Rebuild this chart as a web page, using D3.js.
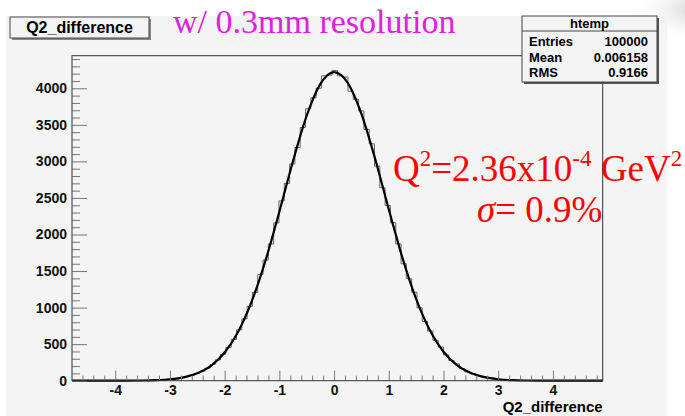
<!DOCTYPE html>
<html>
<head>
<meta charset="utf-8">
<script src="https://cdn.jsdelivr.net/npm/d3@7"></script>
<style>
  body { margin: 0; background: #fff; }
  svg { display: block; }
  .tick text { font-family: "Liberation Sans", Arial, sans-serif; font-weight: bold; font-size: 14px; fill: #111; }
</style>
</head>
<body>
<div id="chart"></div>
<script>
// Histogram binning (htemp, 100 bins)
var xMin = -4.79, xMax = 4.91, nBins = 100;

// Bin contents (left to right)
var counts = [
  0, 0, 0, 0, 0, 0, 0, 0, 0, 0,
  1, 1, 2, 3, 5, 7, 10, 14, 20, 28,
  39, 53, 72, 97, 130, 170, 221, 285, 362, 455,
  566, 696, 846, 1017, 1209, 1455, 1652, 1870, 2159, 2460,
  2698, 2965, 3190, 3464, 3720, 3870, 4000, 4170, 4180, 4245,
  4170, 4155, 3960, 3850, 3690, 3438, 3240, 2935, 2640, 2397,
  2160, 1871, 1600, 1396, 1210, 997, 810, 680, 553, 460,
  353, 277, 230, 165, 120, 94, 70, 51, 37, 27,
  19, 13, 9, 6, 4, 3, 2, 1, 1, 0,
  0, 0, 0, 0, 0, 0, 0, 0, 0, 0
];

// Gaussian fit curve, sampled points
var fitX = [-4.79, -4, -3.5, -3.25, -3, -2.75, -2.5, -2.25, -2, -1.75, -1.5, -1.25, -1, -0.75, -0.5, -0.25,
            0, 0.25, 0.5, 0.75, 1, 1.25, 1.5, 1.75, 2, 2.25, 2.5, 2.75, 3, 3.25, 3.5, 4, 4.91];
var fitY = [0, 0, 3, 8, 20, 46, 101, 204, 385, 674, 1095, 1651, 2312, 3005, 3625, 4061,
            4222, 4075, 3651, 3037, 2345, 1681, 1118, 691, 396, 211, 104, 48, 20, 8, 3, 0, 0];

// Axis ticks
var xTicks = [-4, -3, -2, -1, 0, 1, 2, 3, 4];
var yTicks = [0, 500, 1000, 1500, 2000, 2500, 3000, 3500, 4000];

// Stats box
var statsTitle = "htemp";
var statsRows = [["Entries", "100000"], ["Mean", "0.006158"], ["RMS", "0.9166"]];

var svgWidth = 685, svgHeight = 416;
var frame = { left: 72, right: 602.7, top: 55.7, bottom: 380.7 };

var svg = d3.select('#chart').append('svg')
    .attr('width', svgWidth)
    .attr('height', svgHeight);

// slide decoration top right
var defs = svg.append('defs');
var rg = defs.append('radialGradient').attr('id', 'shade');
rg.append('stop').attr('offset', '0%').attr('stop-color', '#cfcfcf');
rg.append('stop').attr('offset', '100%').attr('stop-color', '#ffffff').attr('stop-opacity', 0);
svg.append('ellipse').attr('cx', 700).attr('cy', 10).attr('rx', 70).attr('ry', 35).attr('fill', 'url(#shade)');

// ROOT canvas
svg.append('rect')
    .attr('x', 6).attr('y', 16)
    .attr('width', 661).attr('height', 400)
    .attr('fill', '#f4f4f4');

var x = d3.scaleLinear().domain([xMin, xMax]).range([frame.left, frame.right]);
var y = d3.scaleLinear().domain([0, 4446]).range([frame.bottom, frame.top]);

var binW = (xMax - xMin) / nBins;
var histPts = counts.map(function(c, i) { return [xMin + i * binW, c]; });
histPts.push([xMax, counts[counts.length - 1]]);

var chart = svg.append('g');

// histogram outline
var stepLine = d3.line()
    .x(d => x(d[0]))
    .y(d => y(d[1]))
    .curve(d3.curveStepAfter);

chart.append('path')
    .datum(histPts)
    .attr('d', stepLine)
    .attr('fill', 'none')
    .attr('stroke', '#666')
    .attr('stroke-width', 1);

// fit
var fitLine = d3.line()
    .x((d, i) => x(fitX[i]))
    .y(d => y(d))
    .curve(d3.curveMonotoneX);

chart.append('path')
    .datum(fitY)
    .attr('d', fitLine)
    .attr('fill', 'none')
    .attr('stroke', '#000')
    .attr('stroke-width', 2.2);

// minor ticks
var xMinor = d3.range(-4.6, 4.85, 0.2).filter(v => Math.abs(v - Math.round(v)) > 0.05);
var yMinor = d3.range(100, 4446, 100).filter(v => v % 500 !== 0);

var xAxisG = chart.append('g')
    .attr('transform', `translate(0, ${frame.bottom})`)
    .call(d3.axisBottom(x).tickValues(xTicks).tickSizeInner(-10).tickSizeOuter(0).tickPadding(4).tickFormat(d => String(d)));
xAxisG.select('.domain').remove();

var xMinorG = chart.append('g')
    .attr('transform', `translate(0, ${frame.bottom})`)
    .call(d3.axisBottom(x).tickValues(xMinor).tickSizeInner(-5).tickSizeOuter(0).tickFormat(''));
xMinorG.select('.domain').remove();

var yAxisG = chart.append('g')
    .attr('transform', `translate(${frame.left}, 0)`)
    .call(d3.axisLeft(y).tickValues(yTicks).tickSizeInner(-15).tickSizeOuter(0).tickPadding(5).tickFormat(d => String(d)));
yAxisG.select('.domain').remove();

var yMinorG = chart.append('g')
    .attr('transform', `translate(${frame.left}, 0)`)
    .call(d3.axisLeft(y).tickValues(yMinor).tickSizeInner(-8).tickSizeOuter(0).tickFormat(''));
yMinorG.select('.domain').remove();

chart.selectAll('.tick line').attr('stroke', '#777');

// frame
chart.append('rect')
    .attr('x', frame.left).attr('y', frame.top)
    .attr('width', frame.right - frame.left).attr('height', frame.bottom - frame.top)
    .attr('fill', 'none').attr('stroke', '#333').attr('stroke-width', 1);

// axis title
svg.append('text')
    .attr('x', frame.right).attr('y', 412)
    .attr('text-anchor', 'end')
    .style('font-family', '"Liberation Sans", Arial, sans-serif')
    .style('font-weight', 'bold').style('font-size', '15px')
    .text('Q2_difference');

// title box
svg.append('rect').attr('x', 12).attr('y', 19).attr('width', 139).attr('height', 21).attr('fill', '#888');
svg.append('rect').attr('x', 10).attr('y', 17).attr('width', 139).attr('height', 21)
    .attr('fill', '#f4f4f4').attr('stroke', '#444').attr('stroke-width', 1);
svg.append('text')
    .attr('x', 79.5).attr('y', 33)
    .attr('text-anchor', 'middle')
    .style('font-family', '"Liberation Sans", Arial, sans-serif')
    .style('font-weight', 'bold').style('font-size', '16px')
    .text('Q2_difference');

// stats box
var sb = { x: 522, y: 16, w: 135, h: 66 };
svg.append('rect').attr('x', sb.x + 2).attr('y', sb.y + 2).attr('width', sb.w).attr('height', sb.h).attr('fill', '#555');
svg.append('rect').attr('x', sb.x).attr('y', sb.y).attr('width', sb.w).attr('height', sb.h)
    .attr('fill', '#f4f4f4').attr('stroke', '#444').attr('stroke-width', 1);
svg.append('line').attr('x1', sb.x).attr('x2', sb.x + sb.w).attr('y1', 31).attr('y2', 31)
    .attr('stroke', '#444');
svg.append('text')
    .attr('x', sb.x + sb.w / 2).attr('y', 28)
    .attr('text-anchor', 'middle')
    .style('font-family', '"Liberation Sans", Arial, sans-serif')
    .style('font-weight', 'bold').style('font-size', '13px')
    .text(statsTitle);
statsRows.forEach(function(r, i) {
    var by = 46 + i * 15.5;
    svg.append('text').attr('x', 529).attr('y', by)
        .style('font-family', '"Liberation Sans", Arial, sans-serif')
        .style('font-weight', 'bold').style('font-size', '13px')
        .text(r[0]);
    svg.append('text').attr('x', 648).attr('y', by)
        .attr('text-anchor', 'end')
        .style('font-family', '"Liberation Sans", Arial, sans-serif')
        .style('font-weight', 'bold').style('font-size', '13px')
        .text(r[1]);
});

// magenta title
svg.append('text')
    .attr('x', 173).attr('y', 33)
    .style('font-family', '"Liberation Serif", "Times New Roman", serif')
    .style('font-size', '34px')
    .attr('fill', '#e020e0')
    .text('w/ 0.3mm resolution');

// red annotation
var ann = svg.append('text')
    .attr('x', 393).attr('y', 181)
    .style('font-family', '"Liberation Serif", "Times New Roman", serif')
    .style('font-size', '37px')
    .attr('fill', '#ff0000');
ann.append('tspan').text('Q');
ann.append('tspan').attr('dy', -15).style('font-size', '23px').text('2');
ann.append('tspan').attr('dy', 15).text('=2.36x10');
ann.append('tspan').attr('dy', -15).style('font-size', '23px').text('-4');
ann.append('tspan').attr('dy', 15).text(' GeV');
ann.append('tspan').attr('dy', -15).style('font-size', '23px').text('2');

var ann2 = svg.append('text')
    .attr('x', 477).attr('y', 222)
    .style('font-family', '"Liberation Serif", "Times New Roman", serif')
    .style('font-size', '37px')
    .attr('fill', '#ff0000');
ann2.append('tspan').style('font-style', 'italic').text('σ');
ann2.append('tspan').text('= 0.9%');
</script>
</body>
</html>
